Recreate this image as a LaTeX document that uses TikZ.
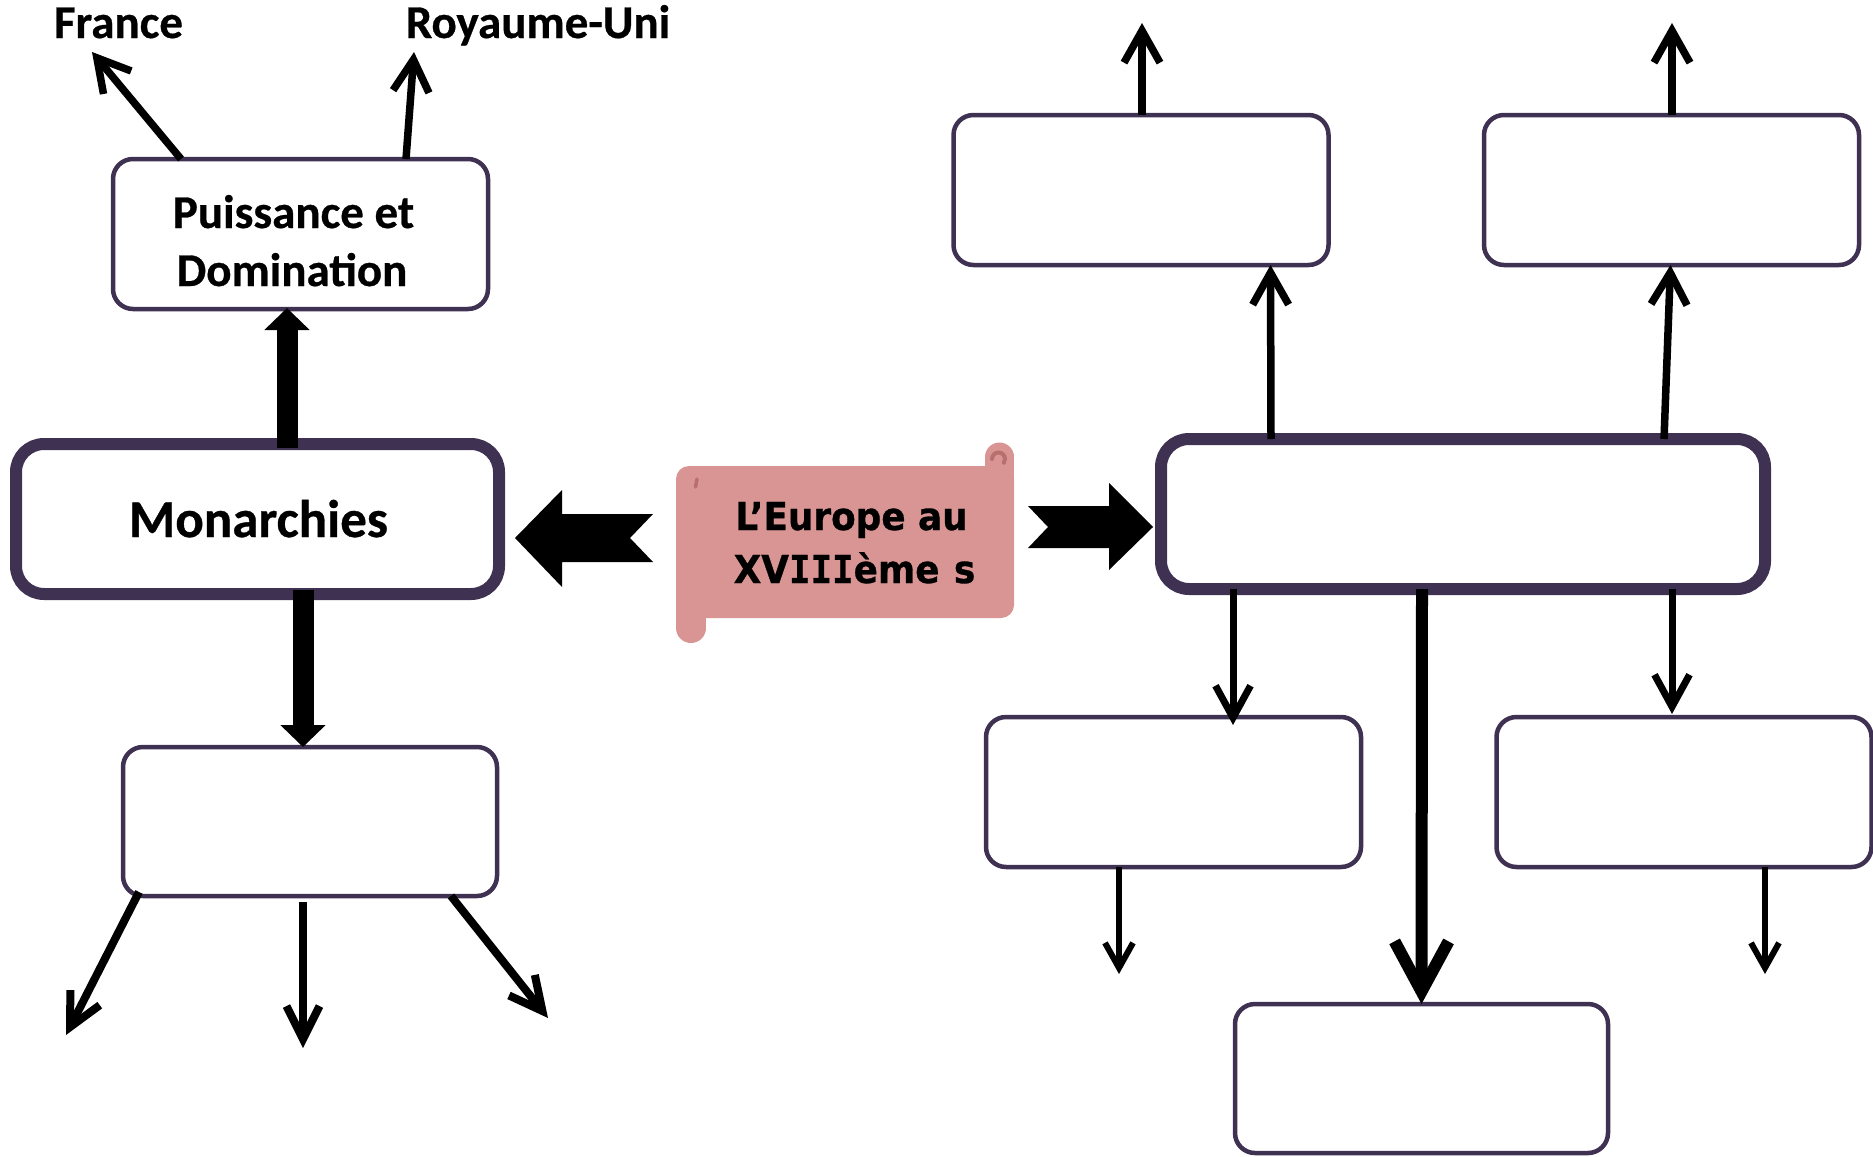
\documentclass[tikz,border=0pt]{standalone}
\usepackage{fontspec}
\setmainfont{Carlito}[BoldFeatures={FakeBold=0.6}]
\newfontfamily\comicfont{DejaVu Sans}[FakeStretch=0.93,BoldFeatures={FakeBold=0.8}]
\newfontfamily\comicmono{DejaVu Sans Mono}[FakeStretch=0.93,BoldFeatures={FakeBold=0.8}]
\usetikzlibrary{arrows.meta}
\definecolor{boxpurple}{RGB}{63,49,81}
\definecolor{scrollpink}{RGB}{217,149,148}
\definecolor{curlpink}{RGB}{184,112,111}
\begin{document}
\begin{tikzpicture}[x=1pt,y=-1pt,
  box/.style={draw=boxpurple, fill=white, rounded corners=20pt, inner sep=0pt, outer sep=0pt,
    minimum width=375pt, minimum height=150pt, line width=4.5pt},
  bigbox/.style={box, line width=12pt, rounded corners=28pt},
  lbl/.style={font=\bfseries\fontsize{47}{56}\selectfont, anchor=base, inner sep=0pt},
  monlbl/.style={font=\bfseries\fontsize{53}{60}\selectfont, anchor=base, inner sep=0pt},
  ttl/.style={font=\comicfont\bfseries\fontsize{38.5}{44}\selectfont, anchor=base, inner sep=0pt},
  arrA/.style={line width=7.5pt, -{Straight Barb[length=32pt,width=36pt]}},
  arrB/.style={line width=8pt, -{Straight Barb[length=33pt,width=33pt]}},
  arrC/.style={line width=7pt, -{Straight Barb[length=32pt,width=35pt]}},
  arrD/.style={line width=6pt, -{Straight Barb[length=25pt,width=28pt]}},
  arrE/.style={line width=12pt, -{Straight Barb[length=50pt,width=54pt]}},
  blockarr/.style={line width=21pt, -{Triangle[length=22pt,width=44pt]}},
  scroll/.style={fill=scrollpink},
  curl/.style={draw=curlpink, line cap=round}
]
\useasboundingbox (0,0) rectangle (1873,1156);
\fill[white] (0,0) rectangle (1873,1156);

% scroll
\fill[scroll, rounded corners=13pt] (676,466) rectangle (1014,618);
\fill[scroll] (985,457) rectangle (1014,480);
\fill[scroll] (999.5,457) circle[radius=14.5];
\fill[scroll] (676,600) rectangle (706,628);
\fill[scroll] (691,628) circle[radius=15];
\draw[curl, line width=4pt] (992,459) arc[start angle=180, end angle=395, radius=6.5];
\draw[curl, line width=3.5pt] (697,479) -- (695.5,487);
\node[ttl] (t1) at (851.5,530) {L’Europe au};
\node[ttl] (t2) at (854.5,583) {XV{\comicmono III}ème\hspace{2pt} s};

% boxes
\node[box] (pui) at (300.5,234) {};
\node[bigbox, minimum width=483pt] (mon) at (257.5,519) {};
\node[box, minimum width=374pt, minimum height=149pt] (ll) at (310,821.5) {};
\node[bigbox, minimum width=604pt] (big) at (1463,514) {};
\node[box] (ul) at (1141,190) {};
\node[box] (ur) at (1671.5,190) {};
\node[box] (lm) at (1173.5,792) {};
\node[box] (lr) at (1684,792) {};
\node[box, minimum width=373pt, minimum height=149pt] (bot) at (1421.5,1078.5) {};

% texts
\node[lbl] (france) at (118.5,38) {France};
\node[lbl] (ru) at (538,38) {Royaume-Uni};
\node[lbl] (pt1) at (293.5,228) {Puissance et};
\node[lbl] (pt2) at (292,286) {Domination};
\node[monlbl] (montxt) at (258.5,537) {Monarchies};

% free ends
\coordinate (frT) at (92,52);
\coordinate (ruT) at (414,52);
\coordinate (llA) at (66,1035);
\coordinate (llB) at (303,1048);
\coordinate (llC) at (548,1018);
\coordinate (lmT) at (1119,974);
\coordinate (lrT) at (1765,974);
\coordinate (ulT) at (1142,23);
\coordinate (urT) at (1672,23);

% block arrows
\fill (515,538) -- (562,490) -- (562,514) -- (653,514) -- (630,538) -- (653,562) -- (562,562) -- (562,587) -- cycle;
\fill (1028,506) -- (1109,506) -- (1109,483) -- (1153,527) -- (1109,570) -- (1109,548) -- (1028,548) -- (1048,527) -- cycle;

% connectors
\draw[arrA] ([xshift=68pt]pui.north west) -- (frT);
\draw[arrA] ([xshift=293pt]pui.north west) -- (ruT);
\draw[blockarr] ([xshift=271pt,yshift=-4pt]mon.north west) -- ([xshift=174pt,yshift=1pt]pui.south west);
\draw[blockarr] ([xshift=287pt,yshift=4pt]mon.south west) -- ([xshift=180pt]ll.north west);
\draw[arrB] ([xshift=16pt,yshift=4pt]ll.south west) -- (llA);
\draw[arrB] ([xshift=180pt,yshift=-6pt]ll.south west) -- (llB);
\draw[arrB] ([xshift=328pt]ll.south west) -- (llC);

\draw[arrA] ([xshift=110pt]big.north west) -- ([xshift=317pt]ul.south west);
\draw[arrA] ([xshift=503pt]big.north west) -- ([xshift=186.5pt]ur.south west);
\draw[arrC] ([xshift=72pt]big.south west) -- ([xshift=247pt,yshift=-8pt]lm.north west);
\draw[arrE] ([xshift=261pt]big.south west) -- ([xshift=186.5pt]bot.north west);
\draw[arrC] ([xshift=511pt]big.south west) -- ([xshift=175.5pt,yshift=3pt]lr.north west);
\draw[arrD] ([xshift=-54.5pt]lm.south) -- (lmT);
\draw[arrD] ([xshift=81pt]lr.south) -- (lrT);
\draw[arrA] ([xshift=1pt]ul.north) -- (ulT);
\draw[arrA] ([xshift=0.5pt]ur.north) -- (urT);
\end{tikzpicture}
\end{document}
